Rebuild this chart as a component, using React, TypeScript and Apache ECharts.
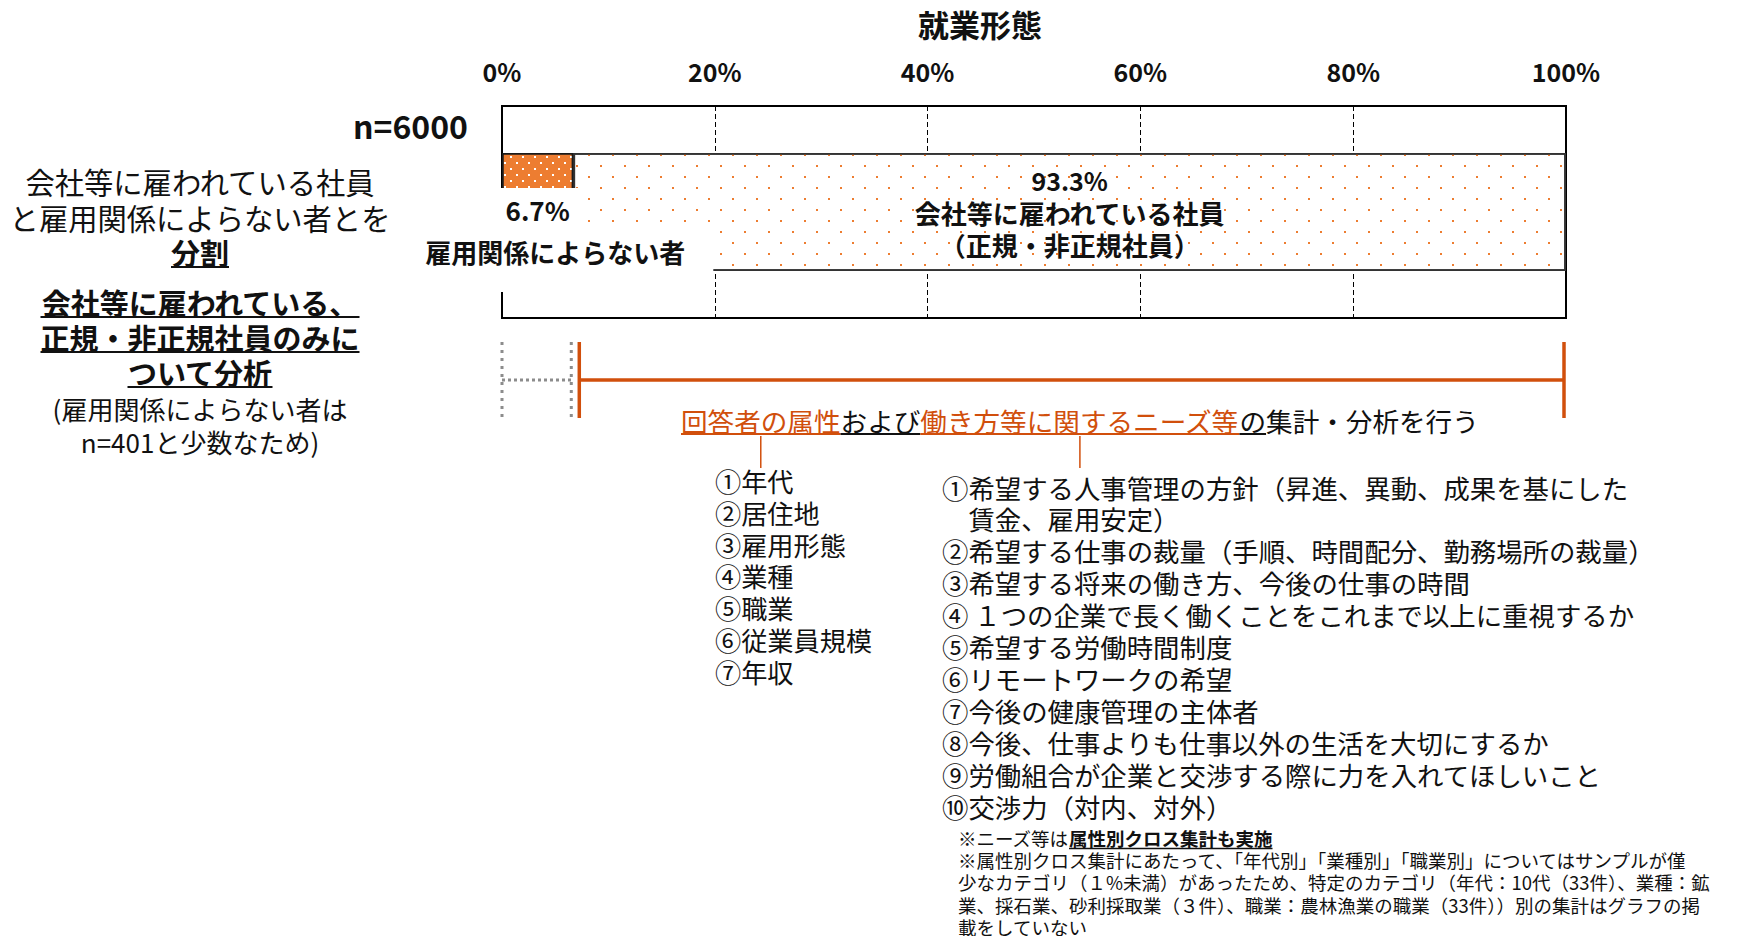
import { useEffect, useRef } from 'react';
import * as echarts from 'echarts';

const FONT = '"Noto Sans CJK JP", "Noto Sans CJK SC", "Noto Sans", sans-serif';
const ORANGE = '#ED7D31';
const ACCENT = '#D14F0C';
const INK = '#111111';

// ---- data ----
const TITLE = '就業形態';
const categories = ['n=6000'];
const axisMin = 0;
const axisMax = 100;
const axisStep = 20;
const nonEmployed = [6.7];
const employed = [93.3];
const nonEmployedName = '雇用関係によらない者';
const employedName = ['会社等に雇われている社員', '（正規・非正規社員）'];

const leftTexts = [
  '会社等に雇われている社員',
  'と雇用関係によらない者とを',
  '分割',
  '会社等に雇われている、',
  '正規・非正規社員のみに',
  'ついて分析',
  '(雇用関係によらない者は',
  'n=401と少数なため)',
];
const sentenceParts = ['回答者の属性', 'および', '働き方等に関するニーズ等', 'の', '集計・分析を行う'];
const attributeItems = ['①年代', '②居住地', '③雇用形態', '④業種', '⑤職業', '⑥従業員規模', '⑦年収'];
const needsItems = [
  '①希望する人事管理の方針（昇進、異動、成果を基にした',
  '　賃金、雇用安定）',
  '②希望する仕事の裁量（手順、時間配分、勤務場所の裁量）',
  '③希望する将来の働き方、今後の仕事の時間',
  '④ １つの企業で長く働くことをこれまで以上に重視するか',
  '⑤希望する労働時間制度',
  '⑥リモートワークの希望',
  '⑦今後の健康管理の主体者',
  '⑧今後、仕事よりも仕事以外の生活を大切にするか',
  '⑨労働組合が企業と交渉する際に力を入れてほしいこと',
  '⑩交渉力（対内、対外）',
];
const footnoteLead = ['※ニーズ等は', '属性別クロス集計も実施'];
const footnoteLines = [
  '※属性別クロス集計にあたって、「年代別」「業種別」「職業別」についてはサンプルが僅',
  '少なカテゴリ（１%未満）があったため、特定のカテゴリ（年代：10代（33件）、業種：鉱',
  '業、採石業、砂利採取業（３件）、職業：農林漁業の職業（33件））別の集計はグラフの掲',
  '載をしていない',
];

// ---- layout ----
const GRID = { left: 502, top: 106, width: 1064, height: 212 };
const BAR_W = 118;

export default function App() {
  const ref = useRef<HTMLDivElement>(null);

  useEffect(() => {
    if (!ref.current) return;
    const chart = echarts.init(ref.current, null, { renderer: 'svg' });

    const option: any = {
      animation: false,
      backgroundColor: '#ffffff',
      textStyle: { fontFamily: FONT },
      title: {
        text: TITLE,
        left: 975 - 62,
        top: 3,
        textStyle: { fontSize: 31, fontWeight: 'bold', color: INK, fontFamily: FONT },
      },
      grid: {
        ...GRID,
        show: true,
        borderColor: '#000',
        borderWidth: 2,
        backgroundColor: 'transparent',
        containLabel: false,
        outerBoundsMode: 'none',
      },
      xAxis: {
        type: 'value',
        position: 'top',
        min: axisMin,
        max: axisMax,
        interval: axisStep,
        axisLine: { show: false },
        axisTick: { show: false },
        axisLabel: {
          formatter: '{value}%',
          fontSize: 25,
          fontWeight: 'bold',
          color: INK,
          margin: 23,
          fontFamily: FONT,
        },
        splitLine: { show: true, lineStyle: { color: '#000', width: 1, type: [5, 3] } },
      },
      yAxis: {
        type: 'category',
        data: categories,
        axisLine: { show: false },
        axisTick: { show: false },
        axisLabel: {
          margin: 34,
          formatter: (v: string) => `{a|${v}}\n{b| }`,
          rich: {
            a: { fontSize: 32, fontWeight: 'bold', color: INK, lineHeight: 38, fontFamily: FONT },
            b: { fontSize: 2, lineHeight: 174 },
          },
        },
      },
      series: [
        {
          name: nonEmployedName,
          type: 'bar',
          stack: 'total',
          data: nonEmployed,
          barWidth: BAR_W,
          z: 3,
          silent: true,
          itemStyle: {
            color: ORANGE,
            borderColor: '#1a1a1a',
            borderWidth: 1.5,
            decal: {
              symbol: 'rect',
              symbolSize: 1,
              color: '#ffffff',
              dashArrayX: [[2, 10], [0, 6, 2, 4]],
              dashArrayY: [2, 4],
            },
          },
          label: { show: false },
        },
        {
          name: employedName[0],
          type: 'bar',
          stack: 'total',
          data: employed,
          barWidth: BAR_W,
          z: 2,
          silent: true,
          itemStyle: {
            color: '#ffffff',
            borderColor: '#333333',
            borderWidth: 1.8,
            decal: {
              symbol: 'rect',
              symbolSize: 1,
              color: ORANGE,
              dashArrayX: [[2, 22], [0, 12, 2, 10]],
              dashArrayY: [2, 9],
            },
          },
          label: {
            show: true,
            position: 'inside',
            color: INK,
            formatter: (p: any) => `{p|${p.value}%}\n{t|${employedName[0]}}\n{t|${employedName[1]}}`,
            rich: {
              p: { fontSize: 25, fontWeight: 'bold', lineHeight: 32, color: INK, fontFamily: FONT },
              t: { fontSize: 26, fontWeight: 'bold', lineHeight: 32, color: INK, fontFamily: FONT },
            },
          },
        },
      ],
    };
    chart.setOption(option);

    const ctx = document.createElement('canvas').getContext('2d') as CanvasRenderingContext2D;
    const measure = (t: string, size: number, bold = false) => {
      ctx.font = `${bold ? 'bold ' : ''}${size}px ${FONT}`;
      return ctx.measureText(t).width;
    };
    const txt = (text: string, x: number, y: number, size: number, o: any = {}) => ({
      type: 'text',
      x,
      y,
      z: 101,
      silent: true,
      style: {
        text,
        fontFamily: FONT,
        fontSize: size,
        fontWeight: o.bold ? 'bold' : 'normal',
        fill: o.color || INK,
        align: o.align || 'left',
        verticalAlign: 'middle',
        lineHeight: o.lh || Math.round(size * 1.1),
      },
    });
    const line = (x1: number, y1: number, x2: number, y2: number, stroke: string, lineWidth: number, lineDash?: number[]) => ({
      type: 'line',
      z: 100,
      silent: true,
      shape: { x1, y1, x2, y2 },
      style: { stroke, lineWidth, lineDash },
    });
    const rect = (x: number, y: number, width: number, height: number) => ({
      type: 'rect',
      z: 99,
      silent: true,
      shape: { x, y, width, height },
      style: { fill: '#ffffff' },
    });

    const px = (v: number) => chart.convertToPixel({ xAxisIndex: 0 } as any, v) as unknown as number;
    const cy = chart.convertToPixel({ yAxisIndex: 0 } as any, categories[0]) as unknown as number;
    const barTop = cy - BAR_W / 2;
    const barBottom = cy + BAR_W / 2;
    const gridBottom = GRID.top + GRID.height;
    const x0 = px(axisMin);
    const xSplit = px(nonEmployed[0]);
    const x20 = px(axisStep);
    const xEnd = px(axisMax);

    const els: any[] = [];

    // white boxes behind the small-segment labels
    els.push(rect(x0 - 3, barTop + 35, px(7.8) - x0 + 3, 40));
    els.push(rect(x0 - 3, barTop + 74, x20 - 1.5 - (x0 - 3), barBottom + 21 - (barTop + 74)));
    els.push(txt(`${nonEmployed[0]}%`, px(nonEmployed[0] / 2), barTop + 56, 26, { bold: true, align: 'center' }));
    els.push(txt(nonEmployedName, px(5), barTop + 98, 26, { bold: true, align: 'center' }));

    // brackets below the chart
    const bTop = gridBottom + 24;
    const bBot = gridBottom + 100;
    const bMid = gridBottom + 62;
    const grey = '#8c8c8c';
    els.push(line(x0, bTop, x0, bBot, grey, 3, [3, 5]));
    els.push(line(xSplit - 2, bTop, xSplit - 2, bBot, grey, 3, [3, 5]));
    els.push(line(x0, bMid, xSplit - 2, bMid, grey, 3, [3, 3]));
    els.push(line(xSplit + 6, bTop, xSplit + 6, bBot, ACCENT, 3.5));
    els.push(line(xEnd - 2, bTop, xEnd - 2, bBot, ACCENT, 3.5));
    els.push(line(xSplit + 6, bMid, xEnd - 2, bMid, ACCENT, 3.5));

    // main sentence
    const sy = 420;
    const sSize = 26.6;
    const partColor = [ACCENT, INK, ACCENT, INK, INK];
    const partUnder = [ACCENT, INK, ACCENT, INK, null];
    let cx = 681;
    const centers: number[] = [];
    sentenceParts.forEach((p, i) => {
      const w = measure(p, sSize);
      els.push(txt(p, cx, sy, sSize, { color: partColor[i] }));
      if (partUnder[i]) els.push(line(cx, sy + 14, cx + w, sy + 14, partUnder[i] as string, 2));
      centers.push(cx + w / 2);
      cx += w;
    });
    els.push(line(centers[0], sy + 16, centers[0], 468, ACCENT, 1.5));
    els.push(line(centers[2], sy + 16, centers[2], 468, ACCENT, 1.5));

    // lists
    attributeItems.forEach((t, i) => els.push(txt(t, 715, 481 + 31.8 * i, 26.2, { lh: 28 })));
    needsItems.forEach((t, i) => els.push(txt(t, 942, 487 + 31.9 * i, 26.4, { lh: 28 })));

    // footnotes
    const fSize = 18.5;
    const fx = 958;
    const leadW = measure(footnoteLead[0], fSize);
    const boldW = measure(footnoteLead[1], fSize, true);
    els.push(txt(footnoteLead[0], fx, 838, fSize, { lh: 20 }));
    els.push(txt(footnoteLead[1], fx + leadW, 838, fSize, { bold: true, lh: 20 }));
    els.push(line(fx + leadW, 848.5, fx + leadW + boldW, 848.5, INK, 1.5));
    footnoteLines.forEach((t, i) => els.push(txt(t, fx, 860 + 22.4 * i, fSize, { lh: 20 })));

    // left-side explanation
    const leftY = [181, 217, 252, 302, 337, 372, 408, 441];
    const leftSize = [29.3, 29.3, 29, 29, 29, 29, 26, 26];
    const leftBold = [false, false, true, true, true, true, false, false];
    const lx = 200;
    leftTexts.forEach((t, i) => {
      els.push(txt(t, lx, leftY[i], leftSize[i], { bold: leftBold[i], align: 'center', lh: 31 }));
      if (leftBold[i]) {
        const w = measure(t, leftSize[i], true);
        els.push(line(lx - w / 2, leftY[i] + 15, lx + w / 2, leftY[i] + 15, INK, 2));
      }
    });

    chart.setOption({ graphic: els });

    return () => chart.dispose();
  }, []);

  return (
    <div
      ref={ref}
      style={{ position: 'fixed', left: 0, top: 0, width: 1738, height: 936, background: '#fff' }}
    />
  );
}
